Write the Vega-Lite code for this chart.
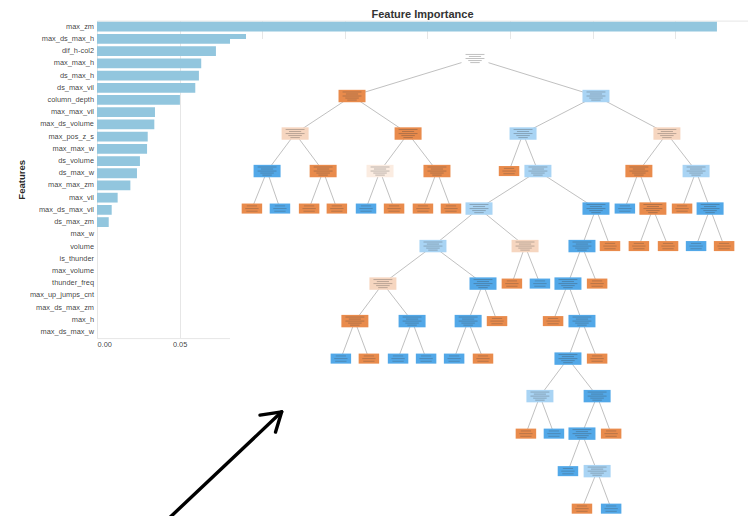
{
  "$schema": "https://vega.github.io/schema/vega-lite/v6.json",
  "width": 651,
  "height": 317.5,
  "autosize": "none",
  "padding": {"left": 97, "top": 20.6, "right": 0, "bottom": 177.9},
  "title": {
    "text": "Feature Importance",
    "frame": "group",
    "anchor": "middle",
    "offset": 1,
    "fontSize": 11,
    "fontWeight": "bold",
    "font": "Liberation Sans",
    "color": "#333333"
  },
  "config": {
    "font": "Liberation Sans",
    "view": {"stroke": "#e6e6e6", "strokeWidth": 1}
  },
  "datasets": {
    "importance": [
      {"feature": "max_zm", "importance": 0.3753},
      {"feature": "max_ds_max_h", "importance": 0.0902},
      {"feature": "dif_h-col2", "importance": 0.0720},
      {"feature": "max_max_h", "importance": 0.0631},
      {"feature": "ds_max_h", "importance": 0.0617},
      {"feature": "ds_max_vil", "importance": 0.0595},
      {"feature": "column_depth", "importance": 0.0502},
      {"feature": "max_max_vil", "importance": 0.0351},
      {"feature": "max_ds_volume", "importance": 0.0347},
      {"feature": "max_pos_z_s", "importance": 0.0307},
      {"feature": "max_max_w", "importance": 0.0303},
      {"feature": "ds_volume", "importance": 0.0260},
      {"feature": "ds_max_w", "importance": 0.0242},
      {"feature": "max_max_zm", "importance": 0.0202},
      {"feature": "max_vil", "importance": 0.0125},
      {"feature": "max_ds_max_vil", "importance": 0.0089},
      {"feature": "ds_max_zm", "importance": 0.0071},
      {"feature": "max_w", "importance": 0},
      {"feature": "volume", "importance": 0},
      {"feature": "is_thunder", "importance": 0},
      {"feature": "max_volume", "importance": 0},
      {"feature": "thunder_freq", "importance": 0},
      {"feature": "max_up_jumps_cnt", "importance": 0},
      {"feature": "max_ds_max_zm", "importance": 0},
      {"feature": "max_h", "importance": 0},
      {"feature": "max_ds_max_w", "importance": 0}
    ],
    "nodes": [
      {"id": 0, "parent": null, "depth": 0, "pos": 0.00, "kind": "split", "tone": "root"},
      {"id": 1, "parent": 0, "depth": 1, "pos": -4.30, "kind": "split", "tone": "class 0"},
      {"id": 2, "parent": 0, "depth": 1, "pos": 4.23, "kind": "split", "tone": "class 1 mixed"},
      {"id": 3, "parent": 1, "depth": 2, "pos": -6.29, "kind": "split", "tone": "class 0 mixed"},
      {"id": 4, "parent": 1, "depth": 2, "pos": -2.34, "kind": "split", "tone": "class 0"},
      {"id": 5, "parent": 2, "depth": 2, "pos": 1.68, "kind": "split", "tone": "class 1 mixed"},
      {"id": 6, "parent": 2, "depth": 2, "pos": 6.71, "kind": "split", "tone": "class 0 mixed"},
      {"id": 7, "parent": 3, "depth": 3, "pos": -7.27, "kind": "split", "tone": "class 1"},
      {"id": 8, "parent": 3, "depth": 3, "pos": -5.31, "kind": "split", "tone": "class 0"},
      {"id": 9, "parent": 4, "depth": 3, "pos": -3.32, "kind": "split", "tone": "class 0 faint"},
      {"id": 10, "parent": 4, "depth": 3, "pos": -1.33, "kind": "split", "tone": "class 0"},
      {"id": 11, "parent": 5, "depth": 3, "pos": 1.19, "kind": "leaf", "tone": "class 0"},
      {"id": 12, "parent": 5, "depth": 3, "pos": 2.20, "kind": "split", "tone": "class 1 mixed"},
      {"id": 13, "parent": 6, "depth": 3, "pos": 5.73, "kind": "split", "tone": "class 0"},
      {"id": 14, "parent": 6, "depth": 3, "pos": 7.73, "kind": "split", "tone": "class 1 mixed"},
      {"id": 15, "parent": 7, "depth": 4, "pos": -7.80, "kind": "leaf", "tone": "class 0"},
      {"id": 16, "parent": 7, "depth": 4, "pos": -6.82, "kind": "leaf", "tone": "class 1"},
      {"id": 17, "parent": 8, "depth": 4, "pos": -5.80, "kind": "leaf", "tone": "class 0"},
      {"id": 18, "parent": 8, "depth": 4, "pos": -4.83, "kind": "leaf", "tone": "class 0"},
      {"id": 19, "parent": 9, "depth": 4, "pos": -3.81, "kind": "leaf", "tone": "class 1"},
      {"id": 20, "parent": 9, "depth": 4, "pos": -2.83, "kind": "leaf", "tone": "class 0"},
      {"id": 21, "parent": 10, "depth": 4, "pos": -1.82, "kind": "leaf", "tone": "class 0"},
      {"id": 22, "parent": 10, "depth": 4, "pos": -0.84, "kind": "leaf", "tone": "class 0"},
      {"id": 23, "parent": 12, "depth": 4, "pos": 0.14, "kind": "split", "tone": "class 1 mixed"},
      {"id": 24, "parent": 12, "depth": 4, "pos": 4.23, "kind": "split", "tone": "class 1"},
      {"id": 25, "parent": 13, "depth": 4, "pos": 5.24, "kind": "leaf", "tone": "class 1"},
      {"id": 26, "parent": 13, "depth": 4, "pos": 6.22, "kind": "split", "tone": "class 0"},
      {"id": 27, "parent": 14, "depth": 4, "pos": 7.24, "kind": "leaf", "tone": "class 0"},
      {"id": 28, "parent": 14, "depth": 4, "pos": 8.22, "kind": "split", "tone": "class 1"},
      {"id": 29, "parent": 23, "depth": 5, "pos": -1.47, "kind": "split", "tone": "class 1 mixed"},
      {"id": 30, "parent": 23, "depth": 5, "pos": 1.75, "kind": "split", "tone": "class 0 mixed"},
      {"id": 31, "parent": 24, "depth": 5, "pos": 3.74, "kind": "split", "tone": "class 1"},
      {"id": 32, "parent": 24, "depth": 5, "pos": 4.72, "kind": "leaf", "tone": "class 0"},
      {"id": 33, "parent": 26, "depth": 5, "pos": 5.73, "kind": "leaf", "tone": "class 0"},
      {"id": 34, "parent": 26, "depth": 5, "pos": 6.75, "kind": "leaf", "tone": "class 0"},
      {"id": 35, "parent": 28, "depth": 5, "pos": 7.73, "kind": "leaf", "tone": "class 1"},
      {"id": 36, "parent": 28, "depth": 5, "pos": 8.71, "kind": "leaf", "tone": "class 0"},
      {"id": 37, "parent": 29, "depth": 6, "pos": -3.22, "kind": "split", "tone": "class 0 mixed"},
      {"id": 38, "parent": 29, "depth": 6, "pos": 0.28, "kind": "split", "tone": "class 1"},
      {"id": 39, "parent": 30, "depth": 6, "pos": 1.29, "kind": "leaf", "tone": "class 0"},
      {"id": 40, "parent": 30, "depth": 6, "pos": 2.27, "kind": "leaf", "tone": "class 1"},
      {"id": 41, "parent": 31, "depth": 6, "pos": 3.25, "kind": "split", "tone": "class 1"},
      {"id": 42, "parent": 31, "depth": 6, "pos": 4.27, "kind": "leaf", "tone": "class 0"},
      {"id": 43, "parent": 37, "depth": 7, "pos": -4.20, "kind": "split", "tone": "class 0"},
      {"id": 44, "parent": 37, "depth": 7, "pos": -2.20, "kind": "split", "tone": "class 1"},
      {"id": 45, "parent": 38, "depth": 7, "pos": -0.24, "kind": "split", "tone": "class 1"},
      {"id": 46, "parent": 38, "depth": 7, "pos": 0.77, "kind": "leaf", "tone": "class 0"},
      {"id": 47, "parent": 41, "depth": 7, "pos": 2.73, "kind": "leaf", "tone": "class 0"},
      {"id": 48, "parent": 41, "depth": 7, "pos": 3.74, "kind": "split", "tone": "class 1"},
      {"id": 49, "parent": 43, "depth": 8, "pos": -4.69, "kind": "leaf", "tone": "class 1"},
      {"id": 50, "parent": 43, "depth": 8, "pos": -3.71, "kind": "leaf", "tone": "class 0"},
      {"id": 51, "parent": 44, "depth": 8, "pos": -2.69, "kind": "leaf", "tone": "class 1"},
      {"id": 52, "parent": 44, "depth": 8, "pos": -1.71, "kind": "leaf", "tone": "class 1"},
      {"id": 53, "parent": 45, "depth": 8, "pos": -0.73, "kind": "leaf", "tone": "class 1"},
      {"id": 54, "parent": 45, "depth": 8, "pos": 0.28, "kind": "leaf", "tone": "class 0"},
      {"id": 55, "parent": 48, "depth": 8, "pos": 3.25, "kind": "split", "tone": "class 1"},
      {"id": 56, "parent": 48, "depth": 8, "pos": 4.27, "kind": "leaf", "tone": "class 0"},
      {"id": 57, "parent": 55, "depth": 9, "pos": 2.27, "kind": "split", "tone": "class 1 mixed"},
      {"id": 58, "parent": 55, "depth": 9, "pos": 4.27, "kind": "split", "tone": "class 1"},
      {"id": 59, "parent": 57, "depth": 10, "pos": 1.78, "kind": "leaf", "tone": "class 0"},
      {"id": 60, "parent": 57, "depth": 10, "pos": 2.76, "kind": "leaf", "tone": "class 1"},
      {"id": 61, "parent": 58, "depth": 10, "pos": 3.74, "kind": "split", "tone": "class 1"},
      {"id": 62, "parent": 58, "depth": 10, "pos": 4.76, "kind": "leaf", "tone": "class 0"},
      {"id": 63, "parent": 61, "depth": 11, "pos": 3.25, "kind": "leaf", "tone": "class 1"},
      {"id": 64, "parent": 61, "depth": 11, "pos": 4.27, "kind": "split", "tone": "class 1 mixed"},
      {"id": 65, "parent": 64, "depth": 12, "pos": 3.74, "kind": "leaf", "tone": "class 0"},
      {"id": 66, "parent": 64, "depth": 12, "pos": 4.76, "kind": "leaf", "tone": "class 1"}
    ],
    "arrow": [
      {"part": "shaft", "seq": 0, "pos": -10.955, "depth": 12.44},
      {"part": "shaft", "seq": 1, "pos": -6.759, "depth": 9.419},
      {"part": "head", "seq": 0, "pos": -7.517, "depth": 9.507},
      {"part": "head", "seq": 1, "pos": -6.759, "depth": 9.419},
      {"part": "head", "seq": 2, "pos": -6.976, "depth": 9.96}
    ],
    "panel": [
      {"pos": -8.566, "pos2": 9.7, "depth": -0.52, "depth2": 12.6}
    ]
  },
  "layer": [
    {
      "data": {"name": "importance"},
      "mark": {"type": "bar", "color": "#92c6de"},
      "encoding": {
        "y": {
          "field": "feature",
          "type": "nominal",
          "sort": null,
          "scale": {"paddingInner": 0.2, "paddingOuter": 0.1},
          "axis": {
            "title": "Features",
            "titleFontSize": 9.5,
            "titleFontWeight": "bold",
            "titleColor": "#222222",
            "titleOpacity": 0.99,
            "titlePadding": 3,
            "labelFontSize": 7.4,
            "labelColor": "#3a3a3a",
            "labelOpacity": 0.99,
            "labelPadding": 3.5,
            "ticks": false,
            "domain": false,
            "grid": false,
            "zindex": 0
          }
        },
        "x": {
          "field": "importance",
          "type": "quantitative",
          "scale": {"domain": [0, 0.3941], "nice": false},
          "axis": {
            "title": null,
            "format": ".2f",
            "values": [0, 0.05, 0.1, 0.15, 0.2, 0.25, 0.3, 0.35],
            "labelFontSize": 7.4,
            "labelColor": "#3a3a3a",
            "labelOpacity": 0.99,
            "labelPadding": 2.5,
            "ticks": false,
            "domain": false,
            "gridColor": "#e6e6e6",
            "zindex": 0
          }
        }
      }
    },
    {
      "encoding": {
        "x": {
          "field": "pos",
          "type": "quantitative",
          "scale": {"domain": [-13.2168, 9.5455], "nice": false, "zero": false},
          "axis": null
        },
        "y": {
          "field": "depth",
          "type": "quantitative",
          "scale": {"domain": [-1.0107, 7.4533], "nice": false, "zero": false, "reverse": true},
          "axis": null
        }
      },
      "layer": [
        {
          "data": {"name": "panel"},
          "mark": {"type": "rect", "fill": "#ffffff", "stroke": null},
          "encoding": {
            "x2": {"field": "pos2"},
            "y2": {"field": "depth2"}
          }
        },
        {
          "data": {"name": "nodes"},
          "transform": [
            {"filter": "datum.parent != null"},
            {
              "lookup": "parent",
              "from": {"data": {"name": "nodes"}, "key": "id", "fields": ["pos", "depth"]},
              "as": ["ppos", "pdepth"]
            }
          ],
          "mark": {"type": "rule", "color": "#b0b0b0", "strokeWidth": 0.8},
          "encoding": {
            "x2": {"field": "ppos"},
            "y2": {"field": "pdepth"}
          }
        },
        {
          "data": {"name": "nodes"},
          "transform": [{"filter": "datum.kind == 'split'"}],
          "mark": {
            "type": "point",
            "filled": true,
            "opacity": 1,
            "size": 729,
            "shape": "M-1,-0.46H1V0.46H-1Z"
          },
          "encoding": {
            "color": {
              "field": "tone",
              "type": "nominal",
              "legend": null,
              "scale": {
                "domain": ["root", "class 0", "class 0 mixed", "class 0 faint", "class 1", "class 1 mixed"],
                "range": ["#ffffff", "#e98b4c", "#f6d6c0", "#fbece1", "#52a8e8", "#a9d4f4"]
              }
            }
          }
        },
        {
          "data": {"name": "nodes"},
          "transform": [{"filter": "datum.kind == 'split'"}],
          "mark": {
            "type": "point",
            "filled": false,
            "stroke": "#3d3d3d",
            "strokeWidth": 0.7,
            "opacity": 0.45,
            "size": 729,
            "shape": "M-0.7,-0.3H0.7M-0.45,-0.15H0.45M-0.7,0H0.7M-0.5,0.15H0.5M-0.35,0.3H0.35"
          }
        },
        {
          "data": {"name": "nodes"},
          "transform": [{"filter": "datum.kind == 'leaf'"}],
          "mark": {
            "type": "point",
            "filled": true,
            "opacity": 1,
            "size": 420,
            "shape": "M-1,-0.49H1V0.49H-1Z"
          },
          "encoding": {
            "color": {
              "field": "tone",
              "type": "nominal",
              "legend": null
            }
          }
        },
        {
          "data": {"name": "nodes"},
          "transform": [{"filter": "datum.kind == 'leaf'"}],
          "mark": {
            "type": "point",
            "filled": false,
            "stroke": "#3d3d3d",
            "strokeWidth": 0.7,
            "opacity": 0.4,
            "size": 420,
            "shape": "M-0.5,-0.26H0.5M-0.65,0H0.65M-0.55,0.26H0.55"
          }
        },
        {
          "data": {"name": "arrow"},
          "mark": {
            "type": "line",
            "color": "#000000",
            "strokeWidth": 3.4,
            "strokeCap": "round",
            "strokeJoin": "round"
          },
          "encoding": {
            "detail": {"field": "part"},
            "order": {"field": "seq"}
          }
        }
      ]
    }
  ],
  "resolve": {
    "scale": {"x": "independent", "y": "independent"},
    "axis": {"x": "independent", "y": "independent"}
  }
}
